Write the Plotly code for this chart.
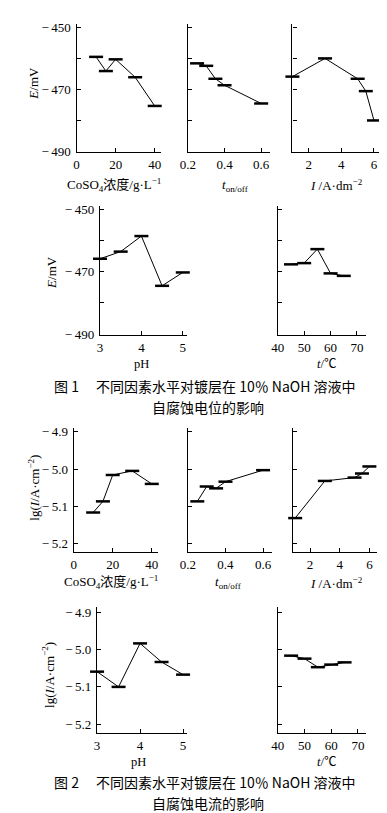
import plotly.graph_objects as go

W, H = 387, 813

# ---------------- data ----------------
coso4 = [10, 15, 20, 30, 40]
ton = [0.25, 0.3, 0.35, 0.4, 0.6]
cur = [1, 3, 5, 5.5, 6]
ph = [3, 3.5, 4, 4.5, 5]
temp = [45, 50, 55, 60, 65]

E_coso4 = [-459.4, -464.0, -460.2, -466.0, -475.3]
E_ton = [-461.5, -462.3, -466.5, -468.6, -474.5]
E_cur = [-465.8, -459.9, -466.5, -470.5, -480.0]
E_ph = [-465.8, -463.5, -458.5, -474.5, -470.2]
E_temp = [-467.6, -467.2, -462.7, -470.5, -471.3]

I_coso4 = [-5.117, -5.087, -5.016, -5.005, -5.040]
I_ton = [-5.087, -5.047, -5.052, -5.034, -5.003]
I_cur = [-5.132, -5.032, -5.023, -5.012, -4.993]
I_ph = [-5.059, -5.100, -4.983, -5.033, -5.067]
I_temp = [-5.016, -5.024, -5.047, -5.040, -5.034]

E_ticks = [-490, -470, -450]
E_ticktext = ["−\u2009490", "−\u2009470", "−\u2009450"]
E_minor = [-480, -460]
I_ticks = [-5.2, -5.1, -5.0, -4.9]
I_ticktext = ["−\u20095.2", "−\u20095.1", "−\u20095.0", "−\u20094.9"]
I_minor = []

x_ticks_coso4 = [0, 20, 40]
x_ticks_ton = [0.2, 0.4, 0.6]
x_ticks_cur = [2, 4, 6]
x_ticks_ph = [3, 4, 5]
x_ticks_temp = [40, 50, 60, 70]

FONT = "Liberation Serif, Times New Roman, Noto Sans CJK SC"
CJK = "Noto Sans CJK SC, Liberation Serif"

# panels: (xdata, ydata, x px left, x px right, y px top, y px bottom, xrange, yrange, xticks, yticks, yticktext, yminor, show y labels)
panels = [
    (coso4, E_coso4, 62, 148, 13, 143, [0, 43], [-490.3, -448.7], x_ticks_coso4, E_ticks, E_ticktext, E_minor, True),
    (ton, E_ton, 176, 260, 13, 143, [0.2, 0.648], [-490.3, -448.7], x_ticks_ton, E_ticks, E_ticktext, E_minor, False),
    (cur, E_cur, 283, 373, 13, 143, [1, 6.39], [-490.3, -448.7], x_ticks_cur, E_ticks, E_ticktext, E_minor, False),
    (ph, E_ph, 86, 175, 197, 328, [3, 5.1], [-490.3, -448.7], x_ticks_ph, E_ticks, E_ticktext, E_minor, True),
    (temp, E_temp, 268, 358, 197, 328, [40, 73.3], [-490.3, -448.7], x_ticks_temp, E_ticks, E_ticktext, E_minor, False),
    (coso4, I_coso4, 59, 145, 422, 548, [0, 43], [-5.224, -4.889], x_ticks_coso4, I_ticks, I_ticktext, I_minor, True),
    (ton, I_ton, 176, 262, 422, 548, [0.2, 0.647], [-5.224, -4.889], x_ticks_ton, I_ticks, I_ticktext, I_minor, False),
    (cur, I_cur, 284, 370, 422, 548, [0.88, 6.54], [-5.224, -4.889], x_ticks_cur, I_ticks, I_ticktext, I_minor, False),
    (ph, I_ph, 83, 175, 603, 731, [3, 5.09], [-5.224, -4.884], x_ticks_ph, I_ticks, I_ticktext, I_minor, True),
    (temp, I_temp, 268, 358, 603, 731, [40, 72.9], [-5.224, -4.884], x_ticks_temp, I_ticks, I_ticktext, I_minor, False),
]

fig = go.Figure()
layout = {}
for i, (xd, yd, xl, xr, yt, yb, xrng, yrng, xt, ytv, ytt, ymin, showy) in enumerate(panels, start=1):
    sfx = "" if i == 1 else str(i)
    fig.add_trace(go.Scatter(
        x=xd, y=yd, xaxis="x" + sfx, yaxis="y" + sfx, mode="lines+markers",
        line=dict(color="black", width=1),
        marker=dict(symbol="line-ew", size=10, line=dict(color="black", width=2.5)),
        showlegend=False, cliponaxis=False,
    ))
    layout["xaxis" + sfx] = dict(
        domain=[xl / W, xr / W], range=xrng, anchor="y" + sfx,
        showline=True, linecolor="black", linewidth=1.2, ticks="inside", ticklen=4,
        tickcolor="black", tickvals=xt, showgrid=False, zeroline=False,
        tickfont=dict(family=FONT, size=13, color="black"), fixedrange=True,
    )
    yax = dict(
        domain=[1 - yb / H, 1 - yt / H], range=yrng, anchor="x" + sfx,
        showline=True, linecolor="black", linewidth=1.2, ticks="inside", ticklen=4,
        tickcolor="black", tickvals=ytv, ticktext=ytt, showticklabels=showy,
        showgrid=False, zeroline=False, ticklabelstandoff=2,
        tickfont=dict(family=FONT, size=13, color="black"), fixedrange=True,
    )
    if ymin:
        yax["minor"] = dict(tickvals=ymin, ticks="inside", ticklen=4, tickcolor="black", showgrid=False)
    layout["yaxis" + sfx] = yax

ann = []
def text(x, y, s, size=12, angle=0, family=FONT):
    ann.append(dict(x=x / W, y=1 - y / H, xref="paper", yref="paper", text=s,
                    showarrow=False, textangle=angle, xanchor="center", yanchor="middle",
                    font=dict(family=family, size=size, color="black")))

xt_coso4 = "CoSO<sub>4</sub>浓度/g·L<sup>−1</sup>"
xt_ton = "<i>t</i><sub>on/off</sub>"
xt_cur = "<i>I</i> /A·dm<sup>−2</sup>"
xt_ph = "pH"
xt_temp = "<i>t</i>/℃"
yt_E = "<i>E</i>/mV"
yt_I = "lg(<i>I</i>/A·cm<sup>−2</sup>)"

text(100, 176, xt_coso4, 13)
text(225, 177, xt_ton, 13)
text(328, 176, xt_cur, 13)
text(128, 357, xt_ph, 12.5)
text(318, 357, xt_temp, 12.5)
text(97, 578, xt_coso4, 13)
text(218, 579, xt_ton, 13)
text(328, 579, xt_cur, 13)
text(125, 760, xt_ph, 12.5)
text(318, 760, xt_temp, 12.5)

text(18, 73, yt_E, 13, -90)
text(37, 265, yt_E, 13, -90)
text(18, 483, yt_I, 13, -90)
text(33, 672, yt_I, 13, -90)

text(193, 380, "图 1　 不同因素水平对镀层在 10％ NaOH 溶液中", 14, family=CJK)
text(197, 400.5, "自腐蚀电位的影响", 14, family=CJK)
text(193, 781, "图 2　 不同因素水平对镀层在 10％ NaOH 溶液中", 14, family=CJK)
text(197, 802, "自腐蚀电流的影响", 14, family=CJK)

fig.update_layout(
    width=W, height=H, margin=dict(l=0, r=0, t=0, b=0),
    paper_bgcolor="white", plot_bgcolor="white",
    annotations=ann, **layout,
)
fig.write_html("out.html", config={"displayModeBar": False})
